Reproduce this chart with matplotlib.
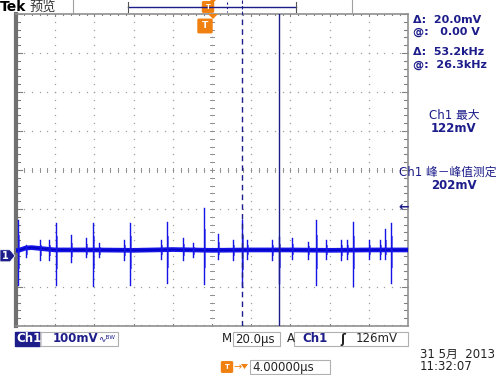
import matplotlib
matplotlib.use('Agg')
import matplotlib.pyplot as plt
from matplotlib.patches import Rectangle, FancyBboxPatch, Polygon
from matplotlib.lines import Line2D

plt.rcParams['font.family'] = ['DejaVu Sans', 'Noto Sans CJK SC']

# ---------------- data ----------------
time_per_div_us = 20.0
volts_per_div_mv = 100.0
ground_pos_mv = -220.0          # on-screen position of the channel ground

baseline_t = [0, 2, 5, 8, 14, 20, 40, 60, 80, 100, 120, 140, 160, 180, 200]
baseline_mv = [13, 15, 20, 21, 18, 15, 15, 14, 16, 14, 15, 15, 14, 15, 15]

spike_t = [1.0, 5.1, 12.2, 16.8, 20.4, 28.1, 35.7, 39.3, 42.3, 55.1, 58.2,
           74.0, 77.0, 85.2, 90.3, 95.9, 103.1, 110.7, 115.3, 117.9, 130.6,
           134.2, 140.8, 149.0, 153.1, 158.2, 165.8, 168.9, 171.9, 180.1,
           185.7, 188.3, 191.3]
spike_hi = [92, 28, 41, 41, 85, 54, 46, 85, 33, 41, 85,
            41, 87, 46, 33, 122, 56, 41, 92, 41, 41,
            48, 46, 36, 92, 41, 41, 41, 87, 41,
            41, 68, 85]
spike_lo = [-76, -3, -12, -12, -74, -17, -4, -78, -4, -12, -74,
            -7, -70, -12, -4, -72, -7, -12, -80, -7, -12,
            -70, -7, -7, -74, -7, -12, -7, -78, -7,
            -7, -7, -70]

cursor_a_t = 115.3   # dashed cursor
cursor_b_t = 134.2   # solid cursor
trigger_level_mv = 126

readouts = ["Δ:  20.0mV", "@:   0.00 V", "Δ:  53.2kHz", "@:  26.3kHz"]
meas_labels = ["Ch1 最大", "122mV", "Ch1 峰－峰值测定", "202mV"]

# ---------------- figure ----------------
W, H = 500, 375
fig = plt.figure(figsize=(W / 100, H / 100), dpi=100)
fig.patch.set_facecolor('white')

L, T, R, B = 16, 14, 408, 326
ax = fig.add_axes([L / W, 1 - B / H, (R - L) / W, (B - T) / H])
ax.set_xlim(0, 10 * time_per_div_us)
ax.set_ylim(-4 * volts_per_div_mv, 4 * volts_per_div_mv)
ax.set_xticks([]); ax.set_yticks([])
for s in ax.spines.values():
    s.set_color('#909090'); s.set_linewidth(1.2)
ax.spines['left'].set_linewidth(3)
ax.spines['left'].set_color('#707070')

NAVY = '#1c1c8a'
TRACE = '#1414e6'
GRID = '#a0a0a0'
ORANGE = '#f08010'

xd = time_per_div_us
yd = volts_per_div_mv
# dotted grid
for i in range(1, 10):
    xs = [i * xd] * 41
    ys = [-400 + k * yd / 5 for k in range(41)]
    ax.plot(xs, ys, ls='none', marker='s', ms=0.9, color=GRID, mew=0)
for j in range(1, 8):
    ys = [-400 + j * yd] * 51
    xs = [k * xd / 5 for k in range(51)]
    ax.plot(xs, ys, ls='none', marker='s', ms=0.9, color=GRID, mew=0)
# center crosshair ticks and edge rulers
for k in range(51):
    x = k * xd / 5
    ln = 6 if k % 5 == 0 else 3.5
    for y0, sgn in ((400, -1), (-400, 1)):
        ax.plot([x, x], [y0, y0 + sgn * ln], color='#808080', lw=0.8)
    ax.plot([x, x], [-4, 4], color='#909090', lw=0.7)
for k in range(41):
    y = -400 + k * yd / 5
    ln = 3 if k % 5 == 0 else 1.8
    for x0, sgn in ((0, 1), (200, -1)):
        ax.plot([x0, x0 + sgn * ln], [y, y], color='#808080', lw=0.8)
    ax.plot([99, 101], [y, y], color='#909090', lw=0.7)

# trace
bl = [ground_pos_mv + v for v in baseline_mv]
ax.plot(baseline_t, bl, color=TRACE, lw=3.4, solid_capstyle='butt', zorder=5)
ax.plot(baseline_t, bl, color='#0000c0', lw=1.0, zorder=6)
for t, hi, lo in zip(spike_t, spike_hi, spike_lo):
    ax.plot([t, t], [ground_pos_mv + lo, ground_pos_mv + hi], color=TRACE,
            lw=1.0, zorder=6)
    ax.plot([t + 0.6, t + 0.6], [ground_pos_mv + lo * 0.5 + 7, ground_pos_mv + hi * 0.5 + 7],
            color=TRACE, lw=0.7, alpha=0.6, zorder=6)

# cursors
ax.axvline(cursor_a_t, color=NAVY, lw=1.0, ls=(0, (4, 3)), zorder=7)
ax.axvline(cursor_b_t, color=NAVY, lw=1.0, zorder=7)


def px(x, y):
    return x / W, 1 - y / H


def ftext(x, y, s, **kw):
    kw.setdefault('fontsize', 8)
    kw.setdefault('color', NAVY)
    kw.setdefault('va', 'center')
    kw.setdefault('ha', 'left')
    fig.text(*px(x, y), s, **kw)


def fline(xs, ys, **kw):
    fig.add_artist(Line2D([x / W for x in xs], [1 - y / H for y in ys], **kw))


def frect(x, y, w, h, **kw):
    fig.add_artist(Rectangle(px(x, y + h), w / W, h / H, **kw))


# top status bar
ftext(0, 7, "Tek", fontsize=10, fontweight='bold', color='black')
ftext(30, 7, "预览", fontsize=9.5, color='#333333')
fline([73, 73], [0, 13], color='#a0a0a0', lw=0.8)
fline([352, 352], [0, 13], color='#a0a0a0', lw=0.8)
fline([128, 296], [7, 7], color=NAVY, lw=1.0)
fline([128, 128], [2, 12], color='#555555', lw=0.8)
fline([296, 296], [2, 12], color='#555555', lw=0.8)
fline([227, 227], [2, 12], color=NAVY, lw=0.8, ls=(0, (2, 2)))
fline([242, 242], [0, 14], color=NAVY, lw=0.8, ls=(0, (3, 2)))


def tmark(x, y, s):
    fig.add_artist(FancyBboxPatch(px(x - s / 2, y + s / 2), s / W, s / H,
                                  boxstyle='round,pad=0.002', fc=ORANGE, ec=ORANGE))
    ftext(x, y, "T", fontsize=s * 0.55, color='white', fontweight='bold', ha='center')


tmark(208, 7, 9)
fig.add_artist(Polygon([px(210, 0), px(216, 0), px(213, 3)], closed=True, fc=ORANGE, ec='none'))
tmark(205, 26, 12)
fig.add_artist(Polygon([px(208, 14), px(218, 14), px(213, 19)], closed=True, fc=ORANGE, ec='none'))

# right readouts
rx = 413
for (y, s) in zip([20, 32, 52, 65], readouts):
    ftext(rx, y, s, fontsize=8, fontweight='bold', family='DejaVu Sans')
ftext(454, 116, meas_labels[0], fontsize=8.5, ha='center')
ftext(454, 129, meas_labels[1], fontsize=8.5, ha='center', fontweight='bold')
ftext(448, 172, meas_labels[2], fontsize=8.5, ha='center')
ftext(454, 185, meas_labels[3], fontsize=8.5, ha='center', fontweight='bold')
trig_y = B - ((ground_pos_mv + trigger_level_mv) + 400) / 800 * (B - T)
ftext(398, trig_y, "←", fontsize=9, color=NAVY, fontweight='bold')

# ground marker
gy = B - (ground_pos_mv + 400) / 800 * (B - T)
fig.add_artist(Polygon([px(0, gy - 6), px(10, gy - 6), px(15, gy), px(10, gy + 6), px(0, gy + 6)],
                       closed=True, fc=NAVY, ec='white', lw=0.5))
ftext(5, gy, "1", fontsize=7, color='white', fontweight='bold', ha='center')

# bottom info bar
frect(15, 332, 25, 14, fc=NAVY, ec=NAVY)
ftext(16, 339, "Ch1", fontsize=8.5, color='white', fontweight='bold')
frect(40, 332, 78, 14, fc='none', ec='#b0b0b0', lw=0.8)
ftext(53, 339, "100mV", fontsize=8.5, fontweight='bold')
ftext(98, 339, "∿ᴮᵂ", fontsize=6.5)
ftext(222, 339, "M", fontsize=8.5, color='#222222')
frect(233, 332, 47, 14, fc='none', ec='#b0b0b0', lw=0.8)
ftext(235, 339, "20.0µs", fontsize=8.5, color='#222222')
ftext(287, 339, "A", fontsize=8.5, color='#222222')
frect(294, 332, 114, 14, fc='none', ec='#b0b0b0', lw=0.8)
ftext(302, 339, "Ch1", fontsize=8.5, fontweight='bold')
ftext(340, 339, "ʃ", fontsize=8.5, color='#222222', fontweight='bold')
ftext(356, 339, "126mV", fontsize=8.5, color='#222222')

tmark(227, 367, 9)
ftext(233, 367, "→", fontsize=7, color=ORANGE)
fig.add_artist(Polygon([px(241, 364), px(248, 364), px(244.5, 369)], closed=True, fc=ORANGE, ec='none'))
frect(250, 360, 80, 14, fc='none', ec='#b0b0b0', lw=0.8)
ftext(252, 367, "4.00000µs", fontsize=8.5, color='#222222')

ftext(420, 354, "31 5月  2013", fontsize=8.5, color='#222222')
ftext(420, 367, "11:32:07", fontsize=8.5, color='#222222')

fig.savefig('out.png', dpi=100, facecolor='white')
